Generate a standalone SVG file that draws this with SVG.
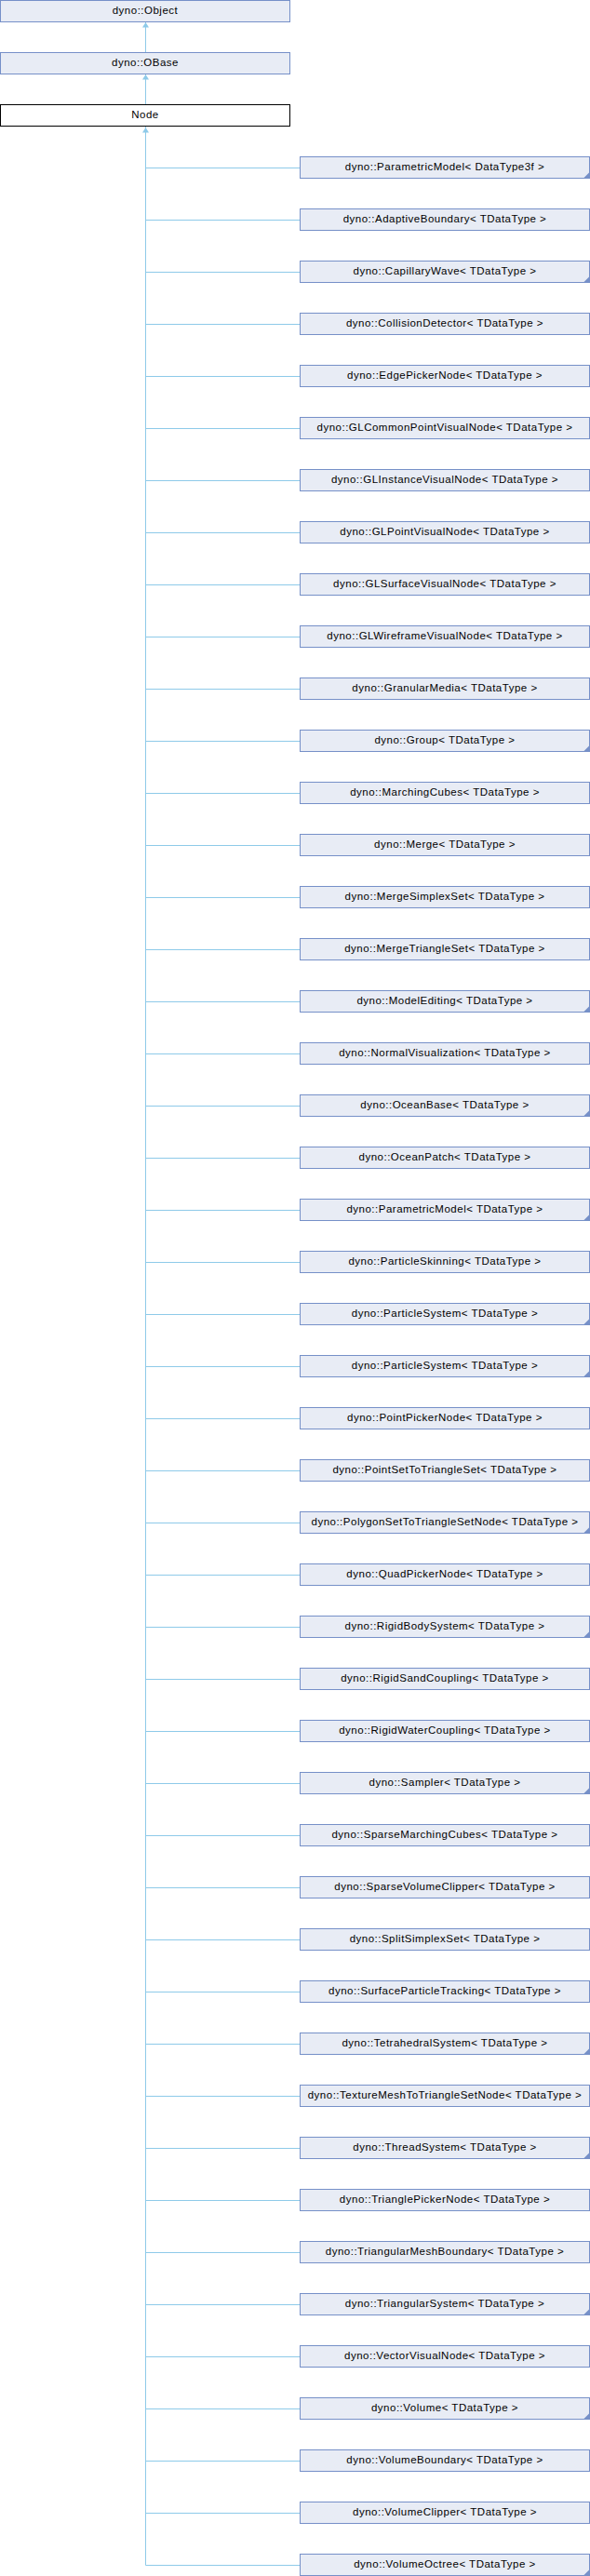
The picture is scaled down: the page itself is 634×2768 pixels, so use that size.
<svg xmlns="http://www.w3.org/2000/svg" width="634" height="2768" viewBox="0 0 634 2768">
<defs>
<style>
.b{fill:#E8ECF5;stroke:#7690C8;stroke-width:1}
.n{fill:#FFFFFF;stroke:#000000;stroke-width:1}
.f{fill:#7690C8}
.t{font-family:"Liberation Sans",Arial,sans-serif;font-size:11.5px;letter-spacing:0.5px;fill:#000;text-anchor:middle}
.c{stroke:#8ECAE9;stroke-width:1;fill:none}
.a{fill:#8ECAE9}
</style>
</defs>
<rect width="634" height="2768" fill="#FFFFFF"/>
<g id="connectors">
<path class="c" d="M156.5,24V56M156.5,80V112M156.5,136V2756.5"/>
<polygon class="a" points="156.5,24 153,29.5 160,29.5"/>
<polygon class="a" points="156.5,80 153,85.5 160,85.5"/>
<polygon class="a" points="156.5,137 153,142.5 160,142.5"/>
<path class="c" d="M156.5,180.5H322M156.5,236.5H322M156.5,292.5H322M156.5,348.5H322M156.5,404.5H322M156.5,460.5H322M156.5,516.5H322M156.5,572.5H322M156.5,628.5H322M156.5,684.5H322M156.5,740.5H322M156.5,796.5H322M156.5,852.5H322M156.5,908.5H322M156.5,964.5H322M156.5,1020.5H322M156.5,1076.5H322M156.5,1132.5H322M156.5,1188.5H322M156.5,1244.5H322M156.5,1300.5H322M156.5,1356.5H322M156.5,1412.5H322M156.5,1468.5H322M156.5,1524.5H322M156.5,1580.5H322M156.5,1636.5H322M156.5,1692.5H322M156.5,1748.5H322M156.5,1804.5H322M156.5,1860.5H322M156.5,1916.5H322M156.5,1972.5H322M156.5,2028.5H322M156.5,2084.5H322M156.5,2140.5H322M156.5,2196.5H322M156.5,2252.5H322M156.5,2308.5H322M156.5,2364.5H322M156.5,2420.5H322M156.5,2476.5H322M156.5,2532.5H322M156.5,2588.5H322M156.5,2644.5H322M156.5,2700.5H322M156.5,2756.5H322"/>
</g>
<g id="n_object"><rect class="b" x="0.5" y="0.5" width="311" height="23"/><text class="t" x="156" y="14.5">dyno::Object</text></g>
<g id="n_obase"><rect class="b" x="0.5" y="56.5" width="311" height="23"/><text class="t" x="156" y="70.5">dyno::OBase</text></g>
<g id="n_node"><rect class="n" x="0.5" y="112.5" width="311" height="23"/><text class="t" x="156" y="126.5">Node</text></g>
<g id="c0"><rect class="b" x="322.5" y="168.5" width="311" height="23"/><polygon class="f" points="633.5,185 633.5,191.5 627,191.5"/><text class="t" x="478" y="182.5">dyno::ParametricModel&lt; DataType3f &gt;</text></g>
<g id="c1"><rect class="b" x="322.5" y="224.5" width="311" height="23"/><text class="t" x="478" y="238.5">dyno::AdaptiveBoundary&lt; TDataType &gt;</text></g>
<g id="c2"><rect class="b" x="322.5" y="280.5" width="311" height="23"/><polygon class="f" points="633.5,297 633.5,303.5 627,303.5"/><text class="t" x="478" y="294.5">dyno::CapillaryWave&lt; TDataType &gt;</text></g>
<g id="c3"><rect class="b" x="322.5" y="336.5" width="311" height="23"/><text class="t" x="478" y="350.5">dyno::CollisionDetector&lt; TDataType &gt;</text></g>
<g id="c4"><rect class="b" x="322.5" y="392.5" width="311" height="23"/><text class="t" x="478" y="406.5">dyno::EdgePickerNode&lt; TDataType &gt;</text></g>
<g id="c5"><rect class="b" x="322.5" y="448.5" width="311" height="23"/><text class="t" x="478" y="462.5">dyno::GLCommonPointVisualNode&lt; TDataType &gt;</text></g>
<g id="c6"><rect class="b" x="322.5" y="504.5" width="311" height="23"/><text class="t" x="478" y="518.5">dyno::GLInstanceVisualNode&lt; TDataType &gt;</text></g>
<g id="c7"><rect class="b" x="322.5" y="560.5" width="311" height="23"/><text class="t" x="478" y="574.5">dyno::GLPointVisualNode&lt; TDataType &gt;</text></g>
<g id="c8"><rect class="b" x="322.5" y="616.5" width="311" height="23"/><text class="t" x="478" y="630.5">dyno::GLSurfaceVisualNode&lt; TDataType &gt;</text></g>
<g id="c9"><rect class="b" x="322.5" y="672.5" width="311" height="23"/><text class="t" x="478" y="686.5">dyno::GLWireframeVisualNode&lt; TDataType &gt;</text></g>
<g id="c10"><rect class="b" x="322.5" y="728.5" width="311" height="23"/><text class="t" x="478" y="742.5">dyno::GranularMedia&lt; TDataType &gt;</text></g>
<g id="c11"><rect class="b" x="322.5" y="784.5" width="311" height="23"/><polygon class="f" points="633.5,801 633.5,807.5 627,807.5"/><text class="t" x="478" y="798.5">dyno::Group&lt; TDataType &gt;</text></g>
<g id="c12"><rect class="b" x="322.5" y="840.5" width="311" height="23"/><text class="t" x="478" y="854.5">dyno::MarchingCubes&lt; TDataType &gt;</text></g>
<g id="c13"><rect class="b" x="322.5" y="896.5" width="311" height="23"/><text class="t" x="478" y="910.5">dyno::Merge&lt; TDataType &gt;</text></g>
<g id="c14"><rect class="b" x="322.5" y="952.5" width="311" height="23"/><text class="t" x="478" y="966.5">dyno::MergeSimplexSet&lt; TDataType &gt;</text></g>
<g id="c15"><rect class="b" x="322.5" y="1008.5" width="311" height="23"/><text class="t" x="478" y="1022.5">dyno::MergeTriangleSet&lt; TDataType &gt;</text></g>
<g id="c16"><rect class="b" x="322.5" y="1064.5" width="311" height="23"/><polygon class="f" points="633.5,1081 633.5,1087.5 627,1087.5"/><text class="t" x="478" y="1078.5">dyno::ModelEditing&lt; TDataType &gt;</text></g>
<g id="c17"><rect class="b" x="322.5" y="1120.5" width="311" height="23"/><text class="t" x="478" y="1134.5">dyno::NormalVisualization&lt; TDataType &gt;</text></g>
<g id="c18"><rect class="b" x="322.5" y="1176.5" width="311" height="23"/><polygon class="f" points="633.5,1193 633.5,1199.5 627,1199.5"/><text class="t" x="478" y="1190.5">dyno::OceanBase&lt; TDataType &gt;</text></g>
<g id="c19"><rect class="b" x="322.5" y="1232.5" width="311" height="23"/><text class="t" x="478" y="1246.5">dyno::OceanPatch&lt; TDataType &gt;</text></g>
<g id="c20"><rect class="b" x="322.5" y="1288.5" width="311" height="23"/><polygon class="f" points="633.5,1305 633.5,1311.5 627,1311.5"/><text class="t" x="478" y="1302.5">dyno::ParametricModel&lt; TDataType &gt;</text></g>
<g id="c21"><rect class="b" x="322.5" y="1344.5" width="311" height="23"/><text class="t" x="478" y="1358.5">dyno::ParticleSkinning&lt; TDataType &gt;</text></g>
<g id="c22"><rect class="b" x="322.5" y="1400.5" width="311" height="23"/><polygon class="f" points="633.5,1417 633.5,1423.5 627,1423.5"/><text class="t" x="478" y="1414.5">dyno::ParticleSystem&lt; TDataType &gt;</text></g>
<g id="c23"><rect class="b" x="322.5" y="1456.5" width="311" height="23"/><polygon class="f" points="633.5,1473 633.5,1479.5 627,1479.5"/><text class="t" x="478" y="1470.5">dyno::ParticleSystem&lt; TDataType &gt;</text></g>
<g id="c24"><rect class="b" x="322.5" y="1512.5" width="311" height="23"/><text class="t" x="478" y="1526.5">dyno::PointPickerNode&lt; TDataType &gt;</text></g>
<g id="c25"><rect class="b" x="322.5" y="1568.5" width="311" height="23"/><text class="t" x="478" y="1582.5">dyno::PointSetToTriangleSet&lt; TDataType &gt;</text></g>
<g id="c26"><rect class="b" x="322.5" y="1624.5" width="311" height="23"/><polygon class="f" points="633.5,1641 633.5,1647.5 627,1647.5"/><text class="t" x="478" y="1638.5">dyno::PolygonSetToTriangleSetNode&lt; TDataType &gt;</text></g>
<g id="c27"><rect class="b" x="322.5" y="1680.5" width="311" height="23"/><text class="t" x="478" y="1694.5">dyno::QuadPickerNode&lt; TDataType &gt;</text></g>
<g id="c28"><rect class="b" x="322.5" y="1736.5" width="311" height="23"/><polygon class="f" points="633.5,1753 633.5,1759.5 627,1759.5"/><text class="t" x="478" y="1750.5">dyno::RigidBodySystem&lt; TDataType &gt;</text></g>
<g id="c29"><rect class="b" x="322.5" y="1792.5" width="311" height="23"/><text class="t" x="478" y="1806.5">dyno::RigidSandCoupling&lt; TDataType &gt;</text></g>
<g id="c30"><rect class="b" x="322.5" y="1848.5" width="311" height="23"/><text class="t" x="478" y="1862.5">dyno::RigidWaterCoupling&lt; TDataType &gt;</text></g>
<g id="c31"><rect class="b" x="322.5" y="1904.5" width="311" height="23"/><polygon class="f" points="633.5,1921 633.5,1927.5 627,1927.5"/><text class="t" x="478" y="1918.5">dyno::Sampler&lt; TDataType &gt;</text></g>
<g id="c32"><rect class="b" x="322.5" y="1960.5" width="311" height="23"/><text class="t" x="478" y="1974.5">dyno::SparseMarchingCubes&lt; TDataType &gt;</text></g>
<g id="c33"><rect class="b" x="322.5" y="2016.5" width="311" height="23"/><text class="t" x="478" y="2030.5">dyno::SparseVolumeClipper&lt; TDataType &gt;</text></g>
<g id="c34"><rect class="b" x="322.5" y="2072.5" width="311" height="23"/><text class="t" x="478" y="2086.5">dyno::SplitSimplexSet&lt; TDataType &gt;</text></g>
<g id="c35"><rect class="b" x="322.5" y="2128.5" width="311" height="23"/><text class="t" x="478" y="2142.5">dyno::SurfaceParticleTracking&lt; TDataType &gt;</text></g>
<g id="c36"><rect class="b" x="322.5" y="2184.5" width="311" height="23"/><polygon class="f" points="633.5,2201 633.5,2207.5 627,2207.5"/><text class="t" x="478" y="2198.5">dyno::TetrahedralSystem&lt; TDataType &gt;</text></g>
<g id="c37"><rect class="b" x="322.5" y="2240.5" width="311" height="23"/><text class="t" x="478" y="2254.5">dyno::TextureMeshToTriangleSetNode&lt; TDataType &gt;</text></g>
<g id="c38"><rect class="b" x="322.5" y="2296.5" width="311" height="23"/><polygon class="f" points="633.5,2313 633.5,2319.5 627,2319.5"/><text class="t" x="478" y="2310.5">dyno::ThreadSystem&lt; TDataType &gt;</text></g>
<g id="c39"><rect class="b" x="322.5" y="2352.5" width="311" height="23"/><text class="t" x="478" y="2366.5">dyno::TrianglePickerNode&lt; TDataType &gt;</text></g>
<g id="c40"><rect class="b" x="322.5" y="2408.5" width="311" height="23"/><text class="t" x="478" y="2422.5">dyno::TriangularMeshBoundary&lt; TDataType &gt;</text></g>
<g id="c41"><rect class="b" x="322.5" y="2464.5" width="311" height="23"/><polygon class="f" points="633.5,2481 633.5,2487.5 627,2487.5"/><text class="t" x="478" y="2478.5">dyno::TriangularSystem&lt; TDataType &gt;</text></g>
<g id="c42"><rect class="b" x="322.5" y="2520.5" width="311" height="23"/><text class="t" x="478" y="2534.5">dyno::VectorVisualNode&lt; TDataType &gt;</text></g>
<g id="c43"><rect class="b" x="322.5" y="2576.5" width="311" height="23"/><polygon class="f" points="633.5,2593 633.5,2599.5 627,2599.5"/><text class="t" x="478" y="2590.5">dyno::Volume&lt; TDataType &gt;</text></g>
<g id="c44"><rect class="b" x="322.5" y="2632.5" width="311" height="23"/><text class="t" x="478" y="2646.5">dyno::VolumeBoundary&lt; TDataType &gt;</text></g>
<g id="c45"><rect class="b" x="322.5" y="2688.5" width="311" height="23"/><text class="t" x="478" y="2702.5">dyno::VolumeClipper&lt; TDataType &gt;</text></g>
<g id="c46"><rect class="b" x="322.5" y="2744.5" width="311" height="23"/><polygon class="f" points="633.5,2761 633.5,2767.5 627,2767.5"/><text class="t" x="478" y="2758.5">dyno::VolumeOctree&lt; TDataType &gt;</text></g>
</svg>
